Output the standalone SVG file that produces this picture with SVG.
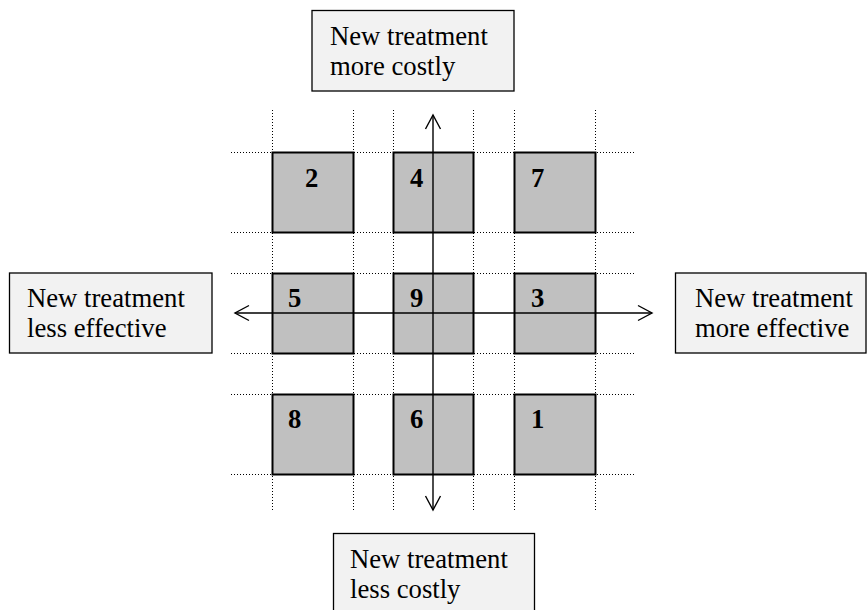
<svg xmlns="http://www.w3.org/2000/svg" width="867" height="610" viewBox="0 0 867 610">
<style>
.grid{stroke:#000;stroke-width:1;stroke-dasharray:1 2;fill:none}
.sq{fill:#c0c0c0;stroke:#000;stroke-width:2}
.lbl{fill:#f2f2f2;stroke:#000;stroke-width:1.3}
.t{font-family:"Liberation Serif","Times New Roman",serif;font-size:26.7px;fill:#000}
.n{font-family:"Liberation Serif","Times New Roman",serif;font-size:26.7px;font-weight:bold;fill:#000}
.ax{stroke:#000;stroke-width:1.4;fill:none}
</style>
<defs>
<marker id="arr" viewBox="-16 -9 18 18" markerWidth="18" markerHeight="18" refX="0" refY="0" orient="auto" markerUnits="userSpaceOnUse">
<path d="M-14,-7.5 L0,0 L-14,7.5" fill="none" stroke="#000" stroke-width="1.4"/>
</marker>
</defs>
<g id="grid">
<path class="grid" d="M272.5,110V512M353.5,110V512M393.5,110V512M473.5,110V512M514.5,110V512M595.5,110V512"/>
<path class="grid" d="M231,152.5H635M231,232.5H635M231,273.5H635M231,353.5H635M231,394.5H635M231,474.5H635"/>
</g>
<g id="cell-2"><rect class="sq" x="272.5" y="152.5" width="81" height="80"/><text class="n" x="305" y="187">2</text></g>
<g id="cell-4"><rect class="sq" x="393.5" y="152.5" width="80" height="80"/><text class="n" x="410" y="187">4</text></g>
<g id="cell-7"><rect class="sq" x="514.5" y="152.5" width="81" height="80"/><text class="n" x="531" y="187">7</text></g>
<g id="cell-5"><rect class="sq" x="272.5" y="273.5" width="81" height="80"/><text class="n" x="288" y="307">5</text></g>
<g id="cell-9"><rect class="sq" x="393.5" y="273.5" width="80" height="80"/><text class="n" x="410" y="307">9</text></g>
<g id="cell-3"><rect class="sq" x="514.5" y="273.5" width="81" height="80"/><text class="n" x="531" y="307">3</text></g>
<g id="cell-8"><rect class="sq" x="272.5" y="394.5" width="81" height="80"/><text class="n" x="288" y="428">8</text></g>
<g id="cell-6"><rect class="sq" x="393.5" y="394.5" width="80" height="80"/><text class="n" x="410" y="428">6</text></g>
<g id="cell-1"><rect class="sq" x="514.5" y="394.5" width="81" height="80"/><text class="n" x="531" y="428">1</text></g>
<g id="connectors">
<line class="ax" x1="433" y1="313" x2="433" y2="115" marker-end="url(#arr)"/>
<line class="ax" x1="433" y1="313" x2="433" y2="510" marker-end="url(#arr)"/>
<line class="ax" x1="433" y1="313" x2="235" y2="313" marker-end="url(#arr)"/>
<line class="ax" x1="433" y1="313" x2="652" y2="313" marker-end="url(#arr)"/>
</g>
<g id="label-top"><rect class="lbl" x="312" y="10.5" width="202" height="80.5"/><text class="t" x="330" y="45">New treatment</text><text class="t" x="330" y="75">more costly</text></g>
<g id="label-left"><rect class="lbl" x="9.5" y="273" width="202.5" height="80"/><text class="t" x="27" y="307">New treatment</text><text class="t" x="27" y="337">less effective</text></g>
<g id="label-right"><rect class="lbl" x="675.5" y="273" width="190.5" height="80"/><text class="t" x="695" y="307">New treatment</text><text class="t" x="695" y="337">more effective</text></g>
<g id="label-bottom"><rect class="lbl" x="333.5" y="533.5" width="201" height="90"/><text class="t" x="350" y="568">New treatment</text><text class="t" x="350" y="598">less costly</text></g>
</svg>
